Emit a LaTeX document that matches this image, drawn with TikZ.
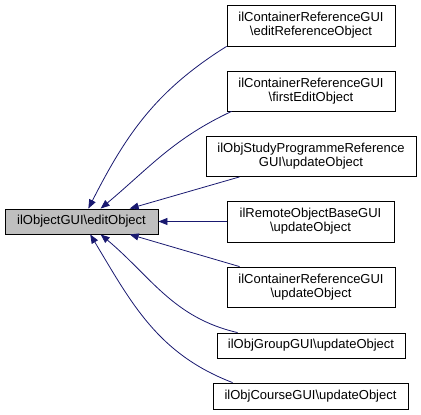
\documentclass[tikz,border=0pt]{standalone}
\usepackage{fontspec}
\setmainfont{Liberation Sans}
\usetikzlibrary{arrows.meta}
\definecolor{edgeblue}{HTML}{191970}
\definecolor{mainfill}{HTML}{BFBFBF}
\begin{document}
\begin{tikzpicture}[x=1pt, y=1pt,
	fn/.style={draw=black, line width=0.8pt, rectangle, align=center, inner sep=0pt,
		font=\fontsize{13}{14}\selectfont},
	callee/.style={fn, fill=mainfill},
	calls/.style={draw=edgeblue, line width=0.8pt, -{Triangle[length=9pt, width=7pt]}}]
	\useasboundingbox (0,0) rectangle (421,415);

	% === 被调用函数 ===
	\node[callee, minimum width=153, minimum height=25] (main) at (81.5,193.5) {ilObjectGUI\textbackslash editObject};

	% === 调用者 (右列) ===
	\node[fn, minimum width=168, minimum height=41] (n1) at (311,389.5) {ilContainerReferenceGUI\\\textbackslash editReferenceObject};
	\node[fn, minimum width=168, minimum height=40] (n2) at (311,324) {ilContainerReferenceGUI\\\textbackslash firstEditObject};
	\node[fn, minimum width=210, minimum height=40] (n3) at (311,258.5) {ilObjStudyProgrammeReference\\GUI\textbackslash updateObject};
	\node[fn, minimum width=167, minimum height=41] (n4) at (310.5,193.5) {ilRemoteObjectBaseGUI\\\textbackslash updateObject};
	\node[fn, minimum width=168, minimum height=40] (n5) at (311,128) {ilContainerReferenceGUI\\\textbackslash updateObject};
	\node[fn, minimum width=188, minimum height=25] (n6) at (311,69.5) {ilObjGroupGUI\textbackslash updateObject};
	\node[fn, minimum width=195, minimum height=26] (n7) at (310.5,19) {ilObjCourseGUI\textbackslash updateObject};

	% 调用关系
	\draw[calls] (n1.south west) to[out=212, in=63] (main.62);
	\draw[calls] ([xshift=5pt]n2.south west) to[out=205, in=40] (main.34);
	\draw[calls] ([xshift=34pt]n3.south west) -- (main.15);
	\draw[calls] (n4.west) -- (main.east);
	\draw[calls] ([xshift=13pt]n5.north west) -- (main.-15);
	\draw[calls] ([xshift=21pt]n6.north west) to[out=167, in=-40] (main.-34);
	\draw[calls] ([xshift=20pt]n7.north west) to[out=159, in=-59] (main.-56);
\end{tikzpicture}
\end{document}
